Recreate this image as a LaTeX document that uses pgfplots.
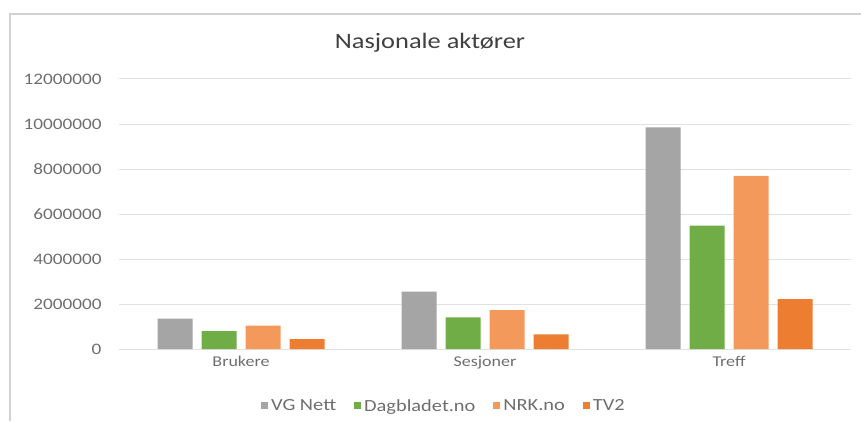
\documentclass[border=0pt]{standalone}
\usepackage{fontspec}
\setmainfont{Carlito}[FakeStretch=1.2]
\usepackage{pgfplots}
\pgfplotsset{compat=1.18}
\definecolor{vg}{RGB}{165,165,165}
\definecolor{db}{RGB}{112,173,71}
\definecolor{nrk}{RGB}{244,153,92}
\definecolor{tv}{RGB}{237,125,49}
\definecolor{txt}{RGB}{110,110,110}
\definecolor{grd}{RGB}{225,225,225}
\begin{document}
\begin{tikzpicture}[x=1pt,y=1pt]
\useasboundingbox (0,0) rectangle (861,421);
\draw[gray!35,line width=1.5pt] (10,0) -- (10,407) -- (861,407);
\node[font=\fontsize{22}{24}\selectfont,text=black!75] at (430,378) {Nasjonale aktører};
\begin{axis}[
  at={(119pt,72pt)},anchor=south west,
  scale only axis,width=732pt,height=270pt,
  ybar=9pt,bar width=35pt,
  xmin=-0.5,xmax=2.5,ymin=0,ymax=12000000,
  xtick=data,xticklabels={Brukere,Sesjoner,Treff},
  ytick={0,2000000,4000000,6000000,8000000,10000000,12000000},
  scaled y ticks=false,
  /pgf/number format/fixed,
  /pgf/number format/precision=0,
  /pgf/number format/1000 sep={},
  /pgf/number format/assume math mode=true,
  ymajorgrids,grid style={grd,line width=1pt},
  axis line style={draw=none},
  major tick length=0pt,
  tick label style={text=txt},
  xticklabel style={font=\fontsize{15}{17}\selectfont,yshift=-4pt},
  yticklabel style={font=\fontsize{16}{18}\selectfont,xshift=-14pt},
  legend style={draw=none,at={(0.444,-0.211)},anchor=center,legend columns=4,
    font=\fontsize{17}{19}\selectfont,text=txt,
    /tikz/every odd column/.append style={column sep=1pt},
    /tikz/every even column/.append style={column sep=16pt}},
  legend image code/.code={\fill[#1] (0pt,-3.5pt) rectangle (7pt,3.5pt);},
]
\addplot[fill=vg,draw=none] coordinates {(0,1350000) (1,2550000) (2,9850000)};
\addplot[fill=db,draw=none] coordinates {(0,800000) (1,1410000) (2,5480000)};
\addplot[fill=nrk,draw=none] coordinates {(0,1040000) (1,1730000) (2,7700000)};
\addplot[fill=tv,draw=none] coordinates {(0,440000) (1,650000) (2,2220000)};
\legend{VG Nett,Dagbladet.no,NRK.no,TV2}
\end{axis}
\end{tikzpicture}
\end{document}
